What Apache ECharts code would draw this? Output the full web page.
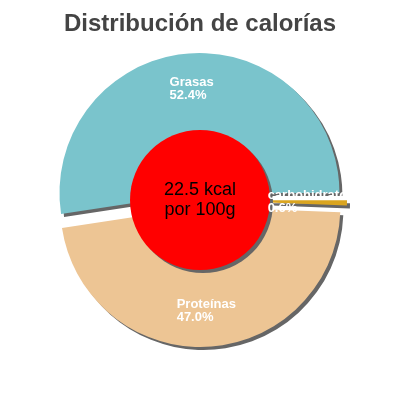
<!DOCTYPE html>
<html lang="es">
<head>
    <meta charset="UTF-8">
    <title>Distribución de calorías</title>
    <script src="https://cdn.jsdelivr.net/npm/echarts@6/dist/echarts.min.js"></script>
    <style>
        html, body { margin: 0; padding: 0; background: #fff; }
        #chart { width: 400px; height: 400px; }
    </style>
</head>
<body>
    <div id="chart"></div>
    <script type="text/javascript">
        // datos (orden en sentido horario desde las 3 en punto)
        var categories = ['carbohidratos', 'Proteínas', 'Grasas'];
        var percents = [0.6, 47.0, 52.4];
        var sliceColors = ['#daa520', '#edc594', '#7ac4cc'];
        var centerText = ['22.5 kcal', 'por 100g'];

        var chart = echarts.init(document.getElementById('chart'));

        var font = '"Liberation Sans", Arial, sans-serif';

        // porciones (todas separadas del centro)
        var pieData = categories.map(function (name, i) {
            return {
                name: name,
                value: percents[i],
                selected: true,
                itemStyle: { color: sliceColors[i] }
            };
        });

        // misma geometría, sólo para las etiquetas (encima del círculo rojo)
        var labelData = categories.map(function (name, i) {
            return { name: name, value: percents[i], selected: true };
        });

        var pieBase = {
            type: 'pie',
            center: [200, 200],
            radius: [62, 140],
            startAngle: 0,
            clockwise: true,
            selectedMode: 'multiple',
            selectedOffset: 7,
            silent: true,
            labelLine: { show: false }
        };

        var option = {
            backgroundColor: '#fff',
            animation: false,
            title: {
                text: 'Distribución de calorías',
                left: 'center',
                top: 7,
                textStyle: {
                    color: '#444',
                    fontSize: 24,
                    fontWeight: 'bold',
                    fontFamily: font
                }
            },
            series: [
                Object.assign({}, pieBase, {
                    z: 2,
                    itemStyle: {
                        shadowColor: '#666',
                        shadowBlur: 0,
                        shadowOffsetX: 3,
                        shadowOffsetY: 3
                    },
                    select: { itemStyle: { borderWidth: 0 } },
                    label: { show: false },
                    data: pieData
                }),
                {
                    // círculo rojo central, por encima de las porciones
                    type: 'pie',
                    z: 10,
                    center: [200, 200],
                    radius: [0, 70],
                    silent: true,
                    itemStyle: {
                        color: '#ff0000',
                        shadowColor: '#666',
                        shadowBlur: 0,
                        shadowOffsetX: 3,
                        shadowOffsetY: 3
                    },
                    label: {
                        show: true,
                        position: 'center',
                        color: '#000',
                        fontSize: 18,
                        fontFamily: font,
                        lineHeight: 20,
                        formatter: centerText.join('\n')
                    },
                    labelLine: { show: false },
                    data: [{ name: 'kcal', value: 1 }]
                },
                Object.assign({}, pieBase, {
                    z: 20,
                    itemStyle: { color: 'rgba(0,0,0,0)' },
                    select: { itemStyle: { color: 'rgba(0,0,0,0)', borderWidth: 0 } },
                    label: {
                        show: true,
                        position: 'inside',
                        color: '#fff',
                        fontSize: 13,
                        fontWeight: 'bold',
                        fontFamily: font,
                        lineHeight: 13,
                        formatter: function (p) {
                            return '{n|' + p.name + '}\n{n|' + p.value.toFixed(1) + '%}';
                        },
                        rich: {
                            n: {
                                align: 'left',
                                color: '#fff',
                                fontSize: 13,
                                fontWeight: 'bold',
                                fontFamily: font,
                                lineHeight: 13
                            }
                        }
                    },
                    data: labelData
                })
            ]
        };

        chart.setOption(option);
    </script>
</body>
</html>
